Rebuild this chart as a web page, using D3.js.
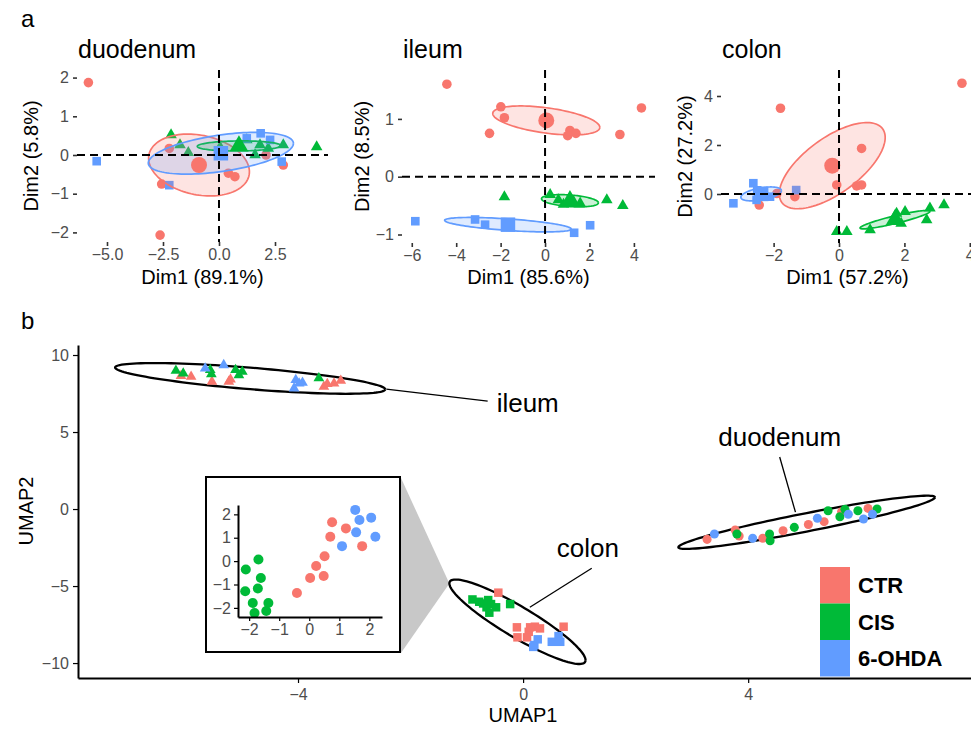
<!DOCTYPE html>
<html>
<head>
<meta charset="utf-8">
<script src="https://cdn.jsdelivr.net/npm/d3@7"></script>
<style>
  body { margin: 0; background: #fff; }
  svg { display: block; }
</style>
</head>
<body>
<script>
// groups and colours
const groups = ['CTR', 'CIS', '6-OHDA'];
const colors = ['#F8766D', '#00BA38', '#619CFF'];

// ---- panel a : PCA individuals (Dim1, Dim2) ----
const duodenumCTR = [[-5.83, 1.87], [-2.63, -2.07], [-2.56, -0.75], [-2.22, 0.17], [0.42, -0.47], [0.71, -0.56], [2.87, -0.26], [2.10, 0.0]];
const duodenumCIS = [[-2.14, 0.52], [-1.74, 0.26], [-1.37, 0.06], [0.05, 0.20], [1.24, 0.39], [1.61, 0.0], [1.83, 0.26], [2.20, 0.17], [2.87, 0.26], [4.36, 0.21]];
const duodenumOHDA = [[-5.46, -0.16], [-2.22, -0.78], [1.24, 0.43], [1.86, 0.56], [2.28, 0.39], [2.80, -0.17]];

const ileumCTR = [[-4.42, 1.60], [-1.99, 1.21], [-1.83, 1.02], [-2.50, 0.75], [1.12, 0.80], [1.02, 0.71], [1.39, 0.75], [3.37, 0.73], [4.34, 1.19]];
const ileumCIS = [[-1.83, -0.35], [0.23, -0.31], [0.60, -0.40], [1.28, -0.43], [1.58, -0.46], [0.83, -0.48], [2.78, -0.40], [3.50, -0.50]];
const ileumOHDA = [[-5.84, -0.77], [-3.15, -0.74], [-2.70, -0.83], [1.31, -0.97], [2.03, -0.84]];

const colonCTR = [[-1.79, 3.50], [3.76, 4.52], [0.69, 1.86], [-0.07, 0.37], [0.54, 0.33], [0.69, 0.37], [-1.35, -0.11], [-2.44, -0.45], [-1.90, 0.02]];
const colonCIS = [[-0.07, -1.54], [0.24, -1.54], [0.95, -1.47], [1.76, -0.79], [2.02, -0.72], [1.66, -1.13], [2.78, -0.58], [2.68, -1.06], [3.21, -0.45], [1.90, -1.20]];
const colonOHDA = [[-3.23, -0.38], [-2.62, 0.44], [-2.52, -0.24], [-2.11, -0.11], [-1.31, 0.16], [-2.50, 0.15]];

// ellipse shape around each group mean: [rightmost offset x, rightmost offset y, half height at centre]
const duodenumEllipses = [[2.25, -0.175, 0.78], [1.86, 0.01, 0.13], [3.24, 0.255, 0.475]];
const ileumEllipses = [[2.41, -0.12, 0.22], [1.28, -0.035, 0.10], [2.85, -0.075, 0.10]];
const colonEllipses = [[1.62, 1.15, 1.33], [1.07, 0.34, 0.16], [0.62, 0.135, 0.25]];

const duodenumXTicks = [-5, -2.5, 0, 2.5];
const duodenumYTicks = [-2, -1, 0, 1, 2];
const ileumXTicks = [-6, -4, -2, 0, 2, 4];
const ileumYTicks = [-1, 0, 1];
const colonXTicks = [-2, 0, 2, 4];
const colonYTicks = [0, 2, 4];

// ---- panel b : UMAP ----
const umapIleumCTR = [[-6.08, 8.64], [-5.90, 8.59], [-5.53, 8.27], [-5.23, 8.27], [-5.20, 8.42], [-3.54, 7.94], [-3.48, 8.12], [-3.36, 8.16], [-3.24, 8.33]];
const umapIleumCIS = [[-6.17, 8.98], [-6.04, 8.81], [-5.56, 9.03], [-5.54, 8.75], [-5.11, 9.03], [-4.99, 8.92], [-5.05, 8.70], [-3.63, 8.49]];
const umapIleumOHDA = [[-5.65, 9.13], [-5.32, 9.35], [-4.04, 8.38], [-3.98, 8.16], [-3.92, 8.20], [-4.07, 7.84]];

const umapColonCTR = [[-0.44, -5.43], [-0.11, -7.68], [-0.10, -8.33], [0.10, -7.97], [0.07, -8.33], [0.21, -7.64], [0.30, -7.75], [0.72, -7.64], [0.125, -7.68]];
const umapColonCIS = [[-0.90, -5.87], [-0.78, -6.02], [-0.62, -5.91], [-0.57, -6.17], [-0.65, -6.38], [-0.48, -6.38], [-0.60, -6.73], [-0.23, -6.17], [-0.71, -6.13]];
const umapColonOHDA = [[0.20, -8.83], [0.26, -8.46], [0.51, -8.62], [0.63, -8.25], [0.66, -8.62], [0.18, -8.95]];

const umapDuodenumCTR = [[3.27, -1.97], [3.77, -1.36], [3.84, -1.75], [4.26, -1.90], [4.62, -1.41], [5.07, -1.00], [5.35, -0.82], [5.66, -0.17], [6.13, 0.04]];
const umapDuodenumCIS = [[3.80, -1.62], [4.38, -1.62], [4.39, -2.06], [4.82, -1.19], [5.42, -0.11], [5.63, -0.50], [5.72, -0.02], [5.95, -0.11], [6.29, 0.0]];
const umapDuodenumOHDA = [[3.40, -1.62], [4.08, -1.90], [5.23, -0.60], [5.78, -0.34], [6.05, -0.65], [6.21, -0.34]];

// outline ellipses: [centre x, centre y, rightmost offset x, offset y, half height]
const umapEllipses = [[-4.85, 8.48, 2.40, -0.71, 0.70], [-0.10, -7.32, 1.21, -2.49, 1.15], [5.04, -0.86, 2.28, 1.62, 0.60]];
// labels: [text, x, y, line x1, y1, x2, y2, anchor]
const umapLabels = [
  ['ileum', -0.47, 6.30, -2.43, 7.79, -0.63, 7.01, 'start'],
  ['colon', 0.60, -3.12, 1.22, -3.84, 0.12, -6.38, 'start'],
  ['duodenum', 4.56, 4.09, 4.56, 3.38, 4.84, -0.20, 'middle']
];
const umapXTicks = [-4, 0, 4];
const umapYTicks = [-10, -5, 0, 5, 10];

// inset (colon zoom)
const insetCTR = [[-0.41, -1.36], [0.03, -0.72], [0.48, -0.64], [0.23, -0.21], [0.51, 0.21], [0.70, 1.04], [0.76, 1.66], [1.22, 1.40], [1.76, 0.64]];
const insetCIS = [[-1.69, 0.07], [-2.11, -0.36], [-1.61, -0.72], [-1.71, -1.17], [-2.13, -1.29], [-1.88, -1.79], [-1.36, -1.79], [-1.82, -2.22], [-1.43, -2.13]];
const insetOHDA = [[1.53, 2.19], [1.67, 1.76], [2.06, 1.86], [1.56, 1.23], [1.09, 0.64], [2.20, 1.04]];
const insetTicks = [-2, -1, 0, 1, 2];

const FONT = "'Liberation Sans', Arial, Helvetica, sans-serif";
const NARROW = "'Liberation Sans Narrow', 'Liberation Sans', Arial, sans-serif";
const W = 971, H = 729;

const svg = d3.select('body').append('svg')
    .attr('width', W).attr('height', H)
    .style('font-family', FONT);

const shapes = [d3.symbolCircle, d3.symbolTriangle, d3.symbolSquare];

function styleAxis(g, color, width) {
    g.selectAll('.tick line').attr('stroke', color).attr('stroke-width', width);
    g.selectAll('.tick text')
        .attr('fill', '#4d4d4d')
        .style('font-family', NARROW)
        .style('font-size', '16px');
}

// ---------- panel a ----------
const pcaPanels = [
    { title: 'duodenum', xlab: 'Dim1 (89.1%)', ylab: 'Dim2 (5.8%)',
      series: [duodenumCTR, duodenumCIS, duodenumOHDA], ellipses: duodenumEllipses,
      xTicks: duodenumXTicks, yTicks: duodenumYTicks, xFmt: d3.format('.1f'),
      left: 77, right: 328, top: 70, bottom: 242,
      xDomain: [-6.339, 4.866], yDomain: [-2.248, 2.196], ylabX: 31 },
    { title: 'ileum', xlab: 'Dim1 (85.6%)', ylab: 'Dim2 (8.5%)',
      series: [ileumCTR, ileumCIS, ileumOHDA], ellipses: ileumEllipses,
      xTicks: ileumXTicks, yTicks: ileumYTicks, xFmt: d3.format('d'),
      left: 402, right: 655, top: 70, bottom: 243,
      xDomain: [-6.44, 4.95], yDomain: [-1.147, 1.846], ylabX: 362 },
    { title: 'colon', xlab: 'Dim1 (57.2%)', ylab: 'Dim2 (27.2%)',
      series: [colonCTR, colonCIS, colonOHDA], ellipses: colonEllipses,
      xTicks: colonXTicks, yTicks: colonYTicks, xFmt: d3.format('d'),
      left: 721, right: 974, top: 70, bottom: 243,
      xDomain: [-3.609, 4.128], yDomain: [-2.0, 5.061], ylabX: 685 }
];

pcaPanels.forEach((p, k) => drawPca(p, k));

function drawPca(p, k) {
    const x = d3.scaleLinear().domain(p.xDomain).range([p.left, p.right]);
    const y = d3.scaleLinear().domain(p.yDomain).range([p.bottom, p.top]);
    const clipId = 'clip' + k;
    svg.append('clipPath').attr('id', clipId)
        .append('rect')
        .attr('x', p.left).attr('y', p.top)
        .attr('width', p.right - p.left).attr('height', p.bottom - p.top);
    const g = svg.append('g').attr('clip-path', `url(#${clipId})`);

    // individual points
    p.series.forEach((pts, i) => {
        const size = i === 1 ? 58 : (i === 2 ? 74 : 72);
        g.append('g').selectAll('path')
            .data(pts)
            .join('path')
            .attr('d', d3.symbol().type(shapes[i]).size(size))
            .attr('transform', d => `translate(${x(d[0])},${y(d[1])})`)
            .attr('fill', colors[i]);
    });

    // group ellipses centred at group mean
    const line = d3.line().x(d => x(d[0])).y(d => y(d[1]));
    const means = p.series.map(pts => [d3.mean(pts, d => d[0]), d3.mean(pts, d => d[1])]);
    p.ellipses.forEach((e, i) => {
        const [cx, cy] = means[i];
        const ring = d3.range(0, 361, 3).map(t => {
            const r = t * Math.PI / 180;
            return [cx + e[0] * Math.cos(r), cy + e[1] * Math.cos(r) + e[2] * Math.sin(r)];
        });
        g.append('path')
            .attr('d', line(ring))
            .attr('fill', colors[i]).attr('fill-opacity', 0.2)
            .attr('stroke', colors[i]).attr('stroke-width', 1.7);
    });

    // group means
    means.forEach((m, i) => {
        const size = i === 1 ? 150 : (i === 2 ? 210 : 200);
        g.append('path')
            .attr('d', d3.symbol().type(shapes[i]).size(size))
            .attr('transform', `translate(${x(m[0])},${y(m[1])})`)
            .attr('fill', colors[i]);
    });

    // reference lines
    g.append('line')
        .attr('x1', p.left).attr('x2', p.right)
        .attr('y1', y(0)).attr('y2', y(0))
        .attr('stroke', '#000').attr('stroke-width', 2).attr('stroke-dasharray', '8,5');
    g.append('line')
        .attr('x1', x(0)).attr('x2', x(0))
        .attr('y1', p.top).attr('y2', p.bottom)
        .attr('stroke', '#000').attr('stroke-width', 2).attr('stroke-dasharray', '8,5');

    // axes
    const ax = svg.append('g').attr('transform', `translate(0,${p.bottom})`)
        .call(d3.axisBottom(x).tickValues(p.xTicks).tickFormat(p.xFmt).tickSize(4).tickPadding(3));
    ax.select('.domain').remove();
    styleAxis(ax, '#333', 1.6);
    const ay = svg.append('g').attr('transform', `translate(${p.left},0)`)
        .call(d3.axisLeft(y).tickValues(p.yTicks).tickFormat(d3.format('d')).tickSize(4).tickPadding(4));
    ay.select('.domain').remove();
    styleAxis(ay, '#333', 1.6);

    // titles
    svg.append('text').attr('x', p.left + 1).attr('y', 58)
        .style('font-size', '25px').attr('fill', '#000').text(p.title);
    svg.append('text').attr('x', (p.left + p.right) / 2).attr('y', 284)
        .attr('text-anchor', 'middle').style('font-size', '20px').text(p.xlab);
    svg.append('text')
        .attr('transform', `translate(${p.ylabX},${(p.top + p.bottom) / 2}) rotate(-90)`)
        .attr('text-anchor', 'middle').attr('dy', '0.35em')
        .style('font-size', '20px').text(p.ylab);
}

svg.append('text').attr('x', 21).attr('y', 27).style('font-size', '24px').text('a');
svg.append('text').attr('x', 21).attr('y', 329).style('font-size', '24px').text('b');

// ---------- panel b ----------
const bx = d3.scaleLinear().domain([-7.91, 7.96]).range([78, 971]);
const by = d3.scaleLinear().domain([-10.97, 10.65]).range([678, 345]);
const bLine = d3.line().x(d => bx(d[0])).y(d => by(d[1]));

// grey zoom wedge from inset to colon cluster
const colonE = umapEllipses[1];
const tip = [bx(colonE[0] - colonE[2]), by(colonE[1] - colonE[3])];
svg.append('path')
    .attr('d', `M401,478 L${tip[0]},${tip[1]} L401,653 Z`)
    .attr('fill', '#c8c8c8');

// outline ellipses
umapEllipses.forEach(e => {
    const ring = d3.range(0, 361, 3).map(t => {
        const r = t * Math.PI / 180;
        return [e[0] + e[2] * Math.cos(r), e[1] + e[3] * Math.cos(r) + e[4] * Math.sin(r)];
    });
    svg.append('path').attr('d', bLine(ring))
        .attr('fill', 'none').attr('stroke', '#000').attr('stroke-width', 2.3);
});

// leader lines and labels
umapLabels.forEach(l => {
    svg.append('line')
        .attr('x1', bx(l[3])).attr('y1', by(l[4]))
        .attr('x2', bx(l[5])).attr('y2', by(l[6]))
        .attr('stroke', '#000').attr('stroke-width', 1.3);
    svg.append('text')
        .attr('x', bx(l[1])).attr('y', by(l[2]))
        .attr('text-anchor', l[7])
        .style('font-size', '26px').text(l[0]);
});

function drawUmapPoints(seriesList, shape, size) {
    seriesList.forEach((pts, i) => {
        svg.append('g').selectAll('path')
            .data(pts)
            .join('path')
            .attr('d', d3.symbol().type(shape).size(size))
            .attr('transform', d => `translate(${bx(d[0])},${by(d[1])})`)
            .attr('fill', colors[i]);
    });
}
drawUmapPoints([umapIleumCTR, umapIleumCIS, umapIleumOHDA], d3.symbolTriangle, 50);
drawUmapPoints([umapColonCTR, umapColonCIS, umapColonOHDA], d3.symbolSquare, 72);
drawUmapPoints([umapDuodenumCTR, umapDuodenumCIS, umapDuodenumOHDA], d3.symbolCircle, 64);

// axes
const bAxX = svg.append('g').attr('transform', `translate(0,678)`)
    .call(d3.axisBottom(bx).tickValues(umapXTicks).tickFormat(d3.format('d')).tickSize(5).tickSizeOuter(0).tickPadding(6));
bAxX.select('.domain').attr('stroke', '#000').attr('stroke-width', 2);
styleAxis(bAxX, '#000', 1.2);
const bAxY = svg.append('g').attr('transform', `translate(78,0)`)
    .call(d3.axisLeft(by).tickValues(umapYTicks).tickFormat(d3.format('d')).tickSize(5).tickSizeOuter(0).tickPadding(4));
bAxY.select('.domain').attr('stroke', '#000').attr('stroke-width', 2);
styleAxis(bAxY, '#000', 1.2);

svg.append('text').attr('x', 523).attr('y', 722)
    .attr('text-anchor', 'middle').style('font-size', '20px').text('UMAP1');
svg.append('text')
    .attr('transform', 'translate(26,511) rotate(-90)')
    .attr('text-anchor', 'middle').attr('dy', '0.35em')
    .style('font-size', '20px').text('UMAP2');

// inset
svg.append('rect')
    .attr('x', 206).attr('y', 477).attr('width', 194).attr('height', 175)
    .attr('fill', '#fff').attr('stroke', '#000').attr('stroke-width', 2);
const ix = d3.scaleLinear().domain([-2.37, 2.42]).range([238, 382]);
const iy = d3.scaleLinear().domain([-2.39, 2.4]).range([617, 505]);
[insetCTR, insetCIS, insetOHDA].forEach((pts, i) => {
    svg.append('g').selectAll('circle')
        .data(pts)
        .join('circle')
        .attr('cx', d => ix(d[0])).attr('cy', d => iy(d[1]))
        .attr('r', 5)
        .attr('fill', colors[i]);
});
const iAxX = svg.append('g').attr('transform', 'translate(0,617)')
    .call(d3.axisBottom(ix).tickValues(insetTicks).tickFormat(d3.format('d')).tickSize(4).tickSizeOuter(0).tickPadding(3));
iAxX.select('.domain').attr('stroke', '#000').attr('stroke-width', 2);
styleAxis(iAxX, '#000', 1.2);
const iAxY = svg.append('g').attr('transform', 'translate(238,0)')
    .call(d3.axisLeft(iy).tickValues(insetTicks).tickFormat(d3.format('d')).tickSize(4).tickSizeOuter(0).tickPadding(3));
iAxY.select('.domain').attr('stroke', '#000').attr('stroke-width', 2);
styleAxis(iAxY, '#000', 1.2);

// legend
const legend = svg.append('g').attr('transform', 'translate(820,567)');
groups.forEach((name, i) => {
    legend.append('rect')
        .attr('x', 0).attr('y', i * 36.5)
        .attr('width', 30).attr('height', 36.5)
        .attr('fill', colors[i]);
    legend.append('text')
        .attr('x', 38).attr('y', i * 36.5 + 18.5)
        .attr('dy', '0.35em')
        .style('font-size', '22px').style('font-weight', 'bold')
        .text(name);
});
</script>
</body>
</html>
